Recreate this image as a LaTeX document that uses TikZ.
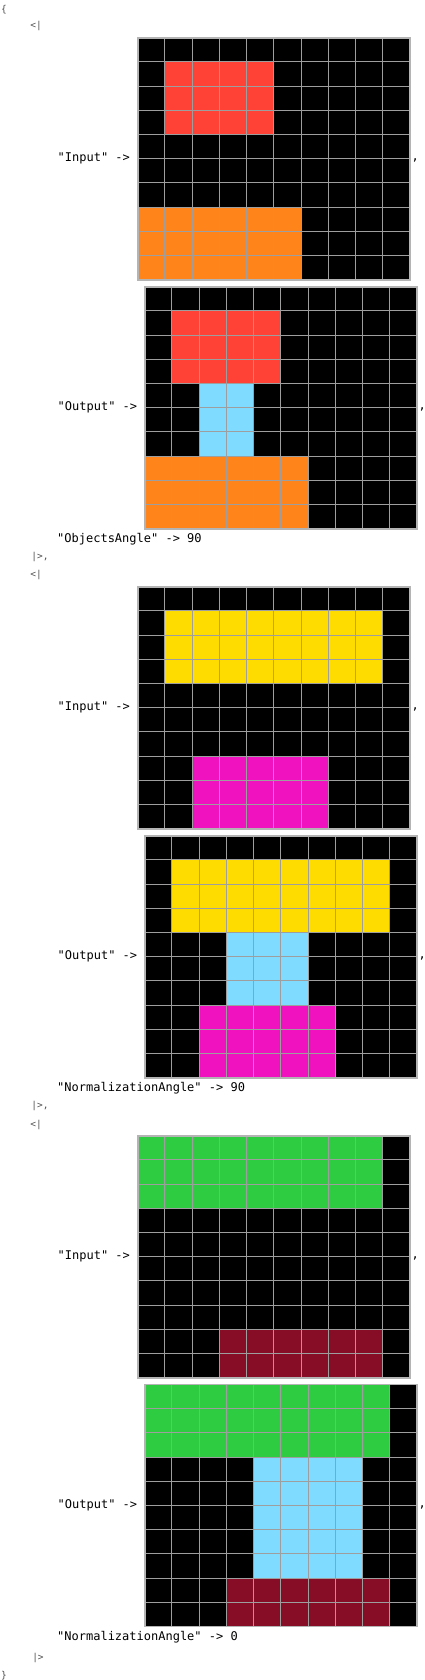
\documentclass[tikz,border=0pt]{standalone}
\usepackage{fontspec}
\setmonofont{DejaVu Sans Mono}
\definecolor{arcblack}{HTML}{000000}
\definecolor{arcred}{HTML}{FF4136}
\definecolor{arcorange}{HTML}{FF851B}
\definecolor{arcyellow}{HTML}{FFDC00}
\definecolor{arcmagenta}{HTML}{F012BE}
\definecolor{arcgreen}{HTML}{2ECC40}
\definecolor{arcmaroon}{HTML}{870C25}
\definecolor{arclight}{HTML}{7FDBFF}
\definecolor{innerline}{HTML}{9E9E9E}
\definecolor{outerline}{HTML}{B4B4B4}
\definecolor{bracketgray}{HTML}{505050}
\tikzset{
  lbl/.style={anchor=west, inner sep=0pt, font=\ttfamily\fontsize{12}{14}\selectfont},
  brk/.style={inner sep=0pt, text=bracketgray, font=\ttfamily\fontsize{9.5}{11}\selectfont},
  gridinner/.style={draw=innerline, line width=0.9pt},
  gridouter/.style={draw=outerline, line width=1.8pt}
}
% \arcgrid{x}{y}{list of c0/r0/c1/r1/colour}
\newcommand{\arcgrid}[3]{%
  \begin{scope}[shift={(#1,#2)}, x=27.23pt, y=-24.2pt]
    \fill[arcblack] (0,0) rectangle (10,10);
    \foreach \ca/\ra/\cb/\rb/\cc in {#3} {
      \fill[\cc] (\ca,\ra) rectangle (\cb,\rb);
    }
    \foreach \k in {1,...,9} {
      \draw[gridinner] (\k,0) -- (\k,10);
      \draw[gridinner] (0,\k) -- (10,\k);
    }
    \draw[gridouter] (0,0) rectangle (10,10);
  \end{scope}%
}
\begin{document}
\begin{tikzpicture}[x=1pt, y=-1pt]
\useasboundingbox (0,0) rectangle (424,1680);
\fill[white] (0,0) rectangle (424,1680);

\node[brk] (open) at (4,9.5) {\{};

% ---------- block 1 ----------
\node[brk] (b1open) at (36,26) {<|};
\arcgrid{137.7}{37.7}{1/1/5/4/arcred, 0/7/6/10/arcorange}
\node[lbl] (in1) at (57.5,158.5) {"Input" ->};
\node[lbl] (c1) at (411.5,160) {,};
\arcgrid{144.7}{286.7}{1/1/5/4/arcred, 2/4/4/7/arclight, 0/7/6/10/arcorange}
\node[lbl] (out1) at (57.5,407.5) {"Output" ->};
\node[lbl] (c2) at (418.5,409) {,};
\node[lbl] (ang1) at (57,539.5) {"ObjectsAngle" -> 90};
\node[brk] (b1close) at (40,557) {|>,};

% ---------- block 2 ----------
\node[brk] (b2open) at (36,575) {<|};
\arcgrid{137.7}{586.7}{1/1/9/4/arcyellow, 2/7/7/10/arcmagenta}
\node[lbl] (in2) at (57.5,707.5) {"Input" ->};
\node[lbl] (c3) at (411.5,709) {,};
\arcgrid{144.7}{835.7}{1/1/9/4/arcyellow, 3/4/6/7/arclight, 2/7/7/10/arcmagenta}
\node[lbl] (out2) at (57.5,956.5) {"Output" ->};
\node[lbl] (c4) at (418.5,958) {,};
\node[lbl] (ang2) at (57,1088.5) {"NormalizationAngle" -> 90};
\node[brk] (b2close) at (40,1106) {|>,};

% ---------- block 3 ----------
\node[brk] (b3open) at (36,1124.5) {<|};
\arcgrid{137.7}{1135.7}{0/0/9/3/arcgreen, 3/8/9/10/arcmaroon}
\node[lbl] (in3) at (57.5,1256.5) {"Input" ->};
\node[lbl] (c5) at (411.5,1258) {,};
\arcgrid{144.7}{1384.5}{0/0/9/3/arcgreen, 4/3/8/8/arclight, 3/8/9/10/arcmaroon}
\node[lbl] (out3) at (57.5,1505.5) {"Output" ->};
\node[lbl] (c6) at (418.5,1507) {,};
\node[lbl] (ang3) at (57,1637.5) {"NormalizationAngle" -> 0};
\node[brk] (b3close) at (38,1657.5) {|>};

\node[brk] (close) at (4,1675.5) {\}};
\end{tikzpicture}
\end{document}
